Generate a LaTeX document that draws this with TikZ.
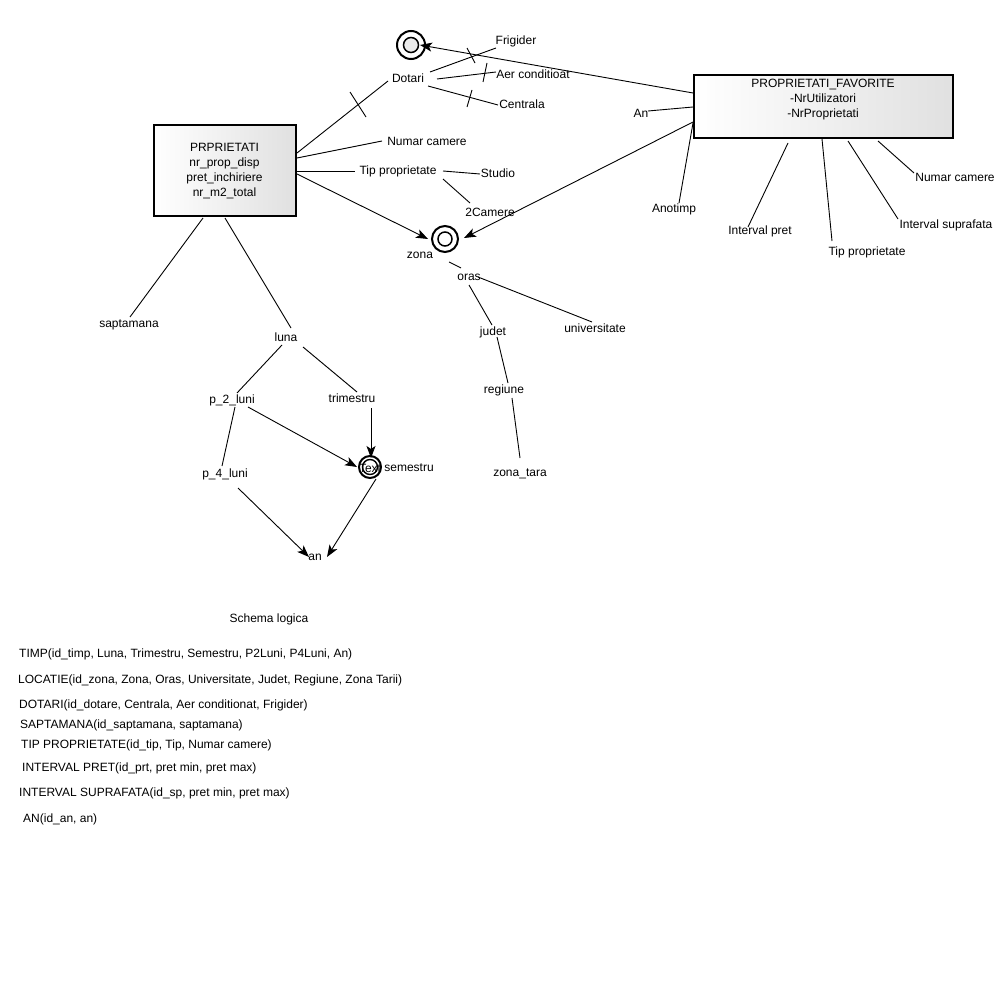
\documentclass[tikz,border=0pt]{standalone}
\usepackage{fontspec}
\setmainfont{Liberation Sans}
\usetikzlibrary{arrows.meta}
\begin{document}
\begin{tikzpicture}[x=1pt,y=-1pt,
  lbl/.style={inner sep=0pt,font=\fontsize{12}{15}\selectfont},
  lblw/.style={lbl,anchor=west},
  box/.style={draw,line width=2pt,left color=white,right color=black!12,inner sep=0pt},
  conn/.style={line width=0.9pt},
  arr/.style={line width=0.9pt,-{Stealth[length=12pt,width=9pt,inset=3pt,fill=black]}},
  tick/.style={line width=0.9pt}]
\useasboundingbox (0,0) rectangle (1000,1000);

% entity boxes
\node[box,minimum width=142pt,minimum height=91pt] (prp) at (224.5,171) {};
\node[lbl,align=center] (prpt) at (224.5,171.5) {PRPRIETATI\\nr\_prop\_disp\\pret\_inchiriere\\nr\_m2\_total};
\node[box,minimum width=259pt,minimum height=63pt] (pf) at (823,107) {};
\node[lbl,align=center] (pft) at (823,100) {PROPRIETATI\_FAVORITE\\-NrUtilizatori\\-NrProprietati};

% circles
\node[circle,draw,line width=2pt,minimum size=28pt,inner sep=0pt] (dc) at (411,45) {};
\node[circle,draw,line width=1.5pt,fill=black!8,minimum size=15pt,inner sep=0pt] (dci) at (411,45) {};
\node[circle,draw,line width=2pt,minimum size=26pt,inner sep=0pt] (zc) at (445,239) {};
\node[circle,draw,line width=1.5pt,minimum size=14pt,inner sep=0pt] (zci) at (445,239) {};
\node[lbl] (semt) at (370,468) {Text};
\node[circle,draw,line width=2pt,minimum size=22pt,inner sep=0pt] (sc) at (370,467) {};
\node[circle,draw,line width=1.4pt,minimum size=15pt,inner sep=0pt] (sci) at (370,467) {};

% labels
\node[lbl] (dotari) at (408,78) {Dotari};
\node[lbl] (frig) at (516,41) {Frigider};
\node[lbl] (aer) at (533,74) {Aer conditioat};
\node[lbl] (centr) at (522,104) {Centrala};
\node[lbl] (nc1) at (427,141) {Numar camere};
\node[lbl] (tip1) at (398,171) {Tip proprietate};
\node[lbl] (studio) at (498,173) {Studio};
\node[lbl] (cam2) at (490,212) {2Camere};
\node[lbl] (zona) at (420,255) {zona};
\node[lbl] (an1) at (641,113) {An};
\node[lbl] (anot) at (674,209) {Anotimp};
\node[lbl] (ipret) at (760,231) {Interval pret};
\node[lbl] (tip2) at (867,252) {Tip proprietate};
\node[lbl] (isup) at (946,225) {Interval suprafata};
\node[lbl] (nc2) at (955,177) {Numar camere};
\node[lbl] (sapt) at (129,325) {saptamana};
\node[lbl] (luna) at (286,337) {luna};
\node[lbl] (p2) at (232,400) {p\_2\_luni};
\node[lbl] (trim) at (352,398) {trimestru};
\node[lbl] (p4) at (225,474) {p\_4\_luni};
\node[lbl] (sem) at (409,468) {semestru};
\node[lbl] (an2) at (315,557) {an};
\node[lbl] (oras) at (469,277) {oras};
\node[lbl] (univ) at (595,328) {universitate};
\node[lbl] (judet) at (493,332) {judet};
\node[lbl] (reg) at (504,390) {regiune};
\node[lbl] (zt) at (520,474) {zona\_tara};

% connector end points
\coordinate (a1) at (297,153); \coordinate (a2) at (388,81);
\coordinate (b1) at (430,72);  \coordinate (b2) at (496,48);
\coordinate (c1) at (437,79);  \coordinate (c2) at (496,72);
\coordinate (d1) at (428,86);  \coordinate (d2) at (498,105);
\coordinate (e1) at (297,158); \coordinate (e2) at (382,141);
\coordinate (f1) at (297,171); \coordinate (f2) at (355,171);
\coordinate (g1) at (443,171); \coordinate (g2) at (480,174);
\coordinate (h1) at (443,179); \coordinate (h2) at (470,203);
\coordinate (i1) at (297,174); \coordinate (i2) at (428,239);
\coordinate (j1) at (693,122); \coordinate (j2) at (464,238);
\coordinate (k1) at (693,93);  \coordinate (k2) at (420,45);
\coordinate (l1) at (648,111); \coordinate (l2) at (693,107);
\coordinate (m1) at (679,203); \coordinate (m2) at (693,123);
\coordinate (n1) at (748,227); \coordinate (n2) at (788,143);
\coordinate (o1) at (832,241); \coordinate (o2) at (822,139);
\coordinate (q1) at (898,219); \coordinate (q2) at (848,141);
\coordinate (r1) at (914,173); \coordinate (r2) at (878,141);
\coordinate (s1) at (203,218); \coordinate (s2) at (130,317);
\coordinate (t1) at (225,218); \coordinate (t2) at (291,328);
\coordinate (u1) at (282,345); \coordinate (u2) at (237,393);
\coordinate (v1) at (303,347); \coordinate (v2) at (357,392);
\coordinate (w1) at (235,407); \coordinate (w2) at (222,466);
\coordinate (x1) at (248,407); \coordinate (x2) at (357,467);
\coordinate (y1) at (371,408); \coordinate (y2) at (371,458);
\coordinate (z1) at (376,479); \coordinate (z2) at (327,557);
\coordinate (aa1) at (238,488); \coordinate (aa2) at (309,557);
\coordinate (bb1) at (449,262); \coordinate (bb2) at (461,268);
\coordinate (cc1) at (478,277); \coordinate (cc2) at (592,322);
\coordinate (dd1) at (469,285); \coordinate (dd2) at (492,325);
\coordinate (ee1) at (497,337); \coordinate (ee2) at (508,383);
\coordinate (ff1) at (512,398); \coordinate (ff2) at (520,458);

% plain connectors
\draw[conn] (a1) -- (a2);
\draw[conn] (b1) -- (b2);
\draw[conn] (c1) -- (c2);
\draw[conn] (d1) -- (d2);
\draw[conn] (e1) -- (e2);
\draw[conn] (f1) -- (f2);
\draw[conn] (g1) -- (g2);
\draw[conn] (h1) -- (h2);
\draw[conn] (l1) -- (l2);
\draw[conn] (m1) -- (m2);
\draw[conn] (n1) -- (n2);
\draw[conn] (o1) -- (o2);
\draw[conn] (q1) -- (q2);
\draw[conn] (r1) -- (r2);
\draw[conn] (s1) -- (s2);
\draw[conn] (t1) -- (t2);
\draw[conn] (u1) -- (u2);
\draw[conn] (v1) -- (v2);
\draw[conn] (w1) -- (w2);
\draw[conn] (bb1) -- (bb2);
\draw[conn] (cc1) -- (cc2);
\draw[conn] (dd1) -- (dd2);
\draw[conn] (ee1) -- (ee2);
\draw[conn] (ff1) -- (ff2);

% arrows
\draw[arr] (i1) -- (i2);
\draw[arr] (j1) -- (j2);
\draw[arr] (k1) -- (k2);
\draw[arr] (x1) -- (x2);
\draw[arr] (y1) -- (y2);
\draw[arr] (z1) -- (z2);
\draw[arr] (aa1) -- (aa2);

% ticks
\coordinate (t1a) at (350,92);  \coordinate (t1b) at (366,117);
\coordinate (t2a) at (467,48);  \coordinate (t2b) at (475,63);
\coordinate (t3a) at (487,63);  \coordinate (t3b) at (483,82);
\coordinate (t4a) at (472,90);  \coordinate (t4b) at (467,107);
\draw[tick] (t1a) -- (t1b);
\draw[tick] (t2a) -- (t2b);
\draw[tick] (t3a) -- (t3b);
\draw[tick] (t4a) -- (t4b);

% logical schema
\node[lbl] (sch) at (269,619) {Schema logica};
\node[lblw] (l1t) at (19,654) {TIMP(id\_timp, Luna, Trimestru, Semestru, P2Luni, P4Luni, An)};
\node[lblw] (l2t) at (18,680) {LOCATIE(id\_zona, Zona, Oras, Universitate, Judet, Regiune, Zona Tarii)};
\node[lblw] (l3t) at (19,705) {DOTARI(id\_dotare, Centrala, Aer conditionat, Frigider)};
\node[lblw] (l4t) at (20,725) {SAPTAMANA(id\_saptamana, saptamana)};
\node[lblw] (l5t) at (21,745) {TIP PROPRIETATE(id\_tip, Tip, Numar camere)};
\node[lblw] (l6t) at (22,768) {INTERVAL PRET(id\_prt, pret min, pret max)};
\node[lblw] (l7t) at (19,793) {INTERVAL SUPRAFATA(id\_sp, pret min, pret max)};
\node[lblw] (l8t) at (23,819) {AN(id\_an, an)};
\end{tikzpicture}
\end{document}
